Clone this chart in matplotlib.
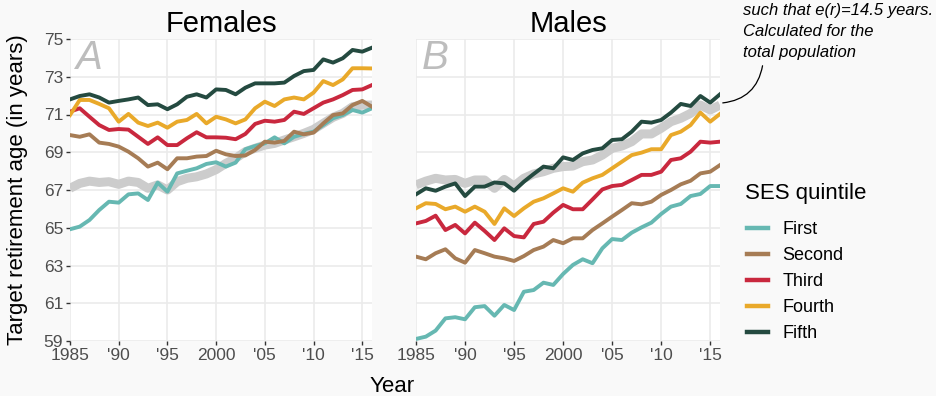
import matplotlib
matplotlib.use('Agg')
import matplotlib.pyplot as plt
from matplotlib.lines import Line2D

plt.rcParams['font.family'] = ['Liberation Sans', 'DejaVu Sans']

years = list(range(1985, 2017))

# Females
fem_first = [64.92, 65.06, 65.41, 65.94, 66.38, 66.33, 66.77, 66.82, 66.47, 67.39, 66.91,
             67.88, 68.02, 68.15, 68.38, 68.47, 68.24, 68.45, 69.16, 69.33, 69.47, 69.79,
             69.47, 69.82, 69.97, 70.09, 70.44, 70.80, 70.97, 71.24, 71.10, 71.33]
fem_second = [69.91, 69.82, 69.95, 69.51, 69.44, 69.30, 69.03, 68.68, 68.24, 68.45, 68.10,
              68.68, 68.68, 68.77, 68.80, 69.08, 68.89, 68.80, 68.83, 69.12, 69.56, 69.51,
              69.60, 70.09, 69.95, 70.04, 70.53, 70.97, 71.06, 71.50, 71.72, 71.41]
fem_third = [71.15, 71.33, 70.88, 70.44, 70.18, 70.23, 70.20, 69.82, 69.44, 69.79, 69.38,
             69.38, 69.74, 70.06, 69.79, 69.79, 69.77, 69.69, 69.97, 70.50, 70.67, 70.62,
             70.71, 71.15, 71.03, 71.33, 71.63, 71.80, 72.03, 72.30, 72.33, 72.56]
fem_fourth = [70.97, 71.77, 71.77, 71.56, 71.33, 70.62, 71.03, 70.57, 70.39, 70.57, 70.30,
              70.62, 70.71, 71.03, 70.53, 70.88, 70.74, 70.53, 70.74, 71.33, 71.68, 71.45,
              71.80, 71.90, 71.80, 72.16, 72.77, 72.56, 72.86, 73.45, 73.45, 73.44]
fem_fifth = [71.80, 71.98, 72.07, 71.90, 71.63, 71.72, 71.80, 71.90, 71.50, 71.54, 71.28,
             71.54, 71.94, 72.07, 71.90, 72.33, 72.30, 72.07, 72.42, 72.65, 72.65, 72.65,
             72.69, 73.04, 73.30, 73.36, 73.92, 73.75, 73.98, 74.42, 74.33, 74.54]
fem_total = [67.09, 67.35, 67.47, 67.40, 67.44, 67.30, 67.47, 67.40, 67.09, 67.27, 67.00,
             67.44, 67.62, 67.70, 67.85, 68.08, 68.41, 68.68, 69.03, 69.21, 69.38, 69.47,
             69.65, 69.82, 70.00, 70.21, 70.53, 70.85, 71.06, 71.41, 71.50, 71.50]

# Males
male_first = [59.11, 59.23, 59.55, 60.20, 60.26, 60.15, 60.79, 60.85, 60.34, 60.91, 60.64,
              61.61, 61.70, 62.09, 61.97, 62.55, 63.03, 63.33, 63.12, 63.91, 64.40, 64.35,
              64.74, 65.02, 65.27, 65.73, 66.12, 66.26, 66.68, 66.79, 67.21, 67.21]
male_second = [63.47, 63.33, 63.65, 63.86, 63.38, 63.15, 63.82, 63.65, 63.47, 63.38, 63.24,
               63.50, 63.82, 64.00, 64.35, 64.18, 64.44, 64.44, 64.88, 65.23, 65.59, 65.94,
               66.30, 66.24, 66.38, 66.74, 67.00, 67.30, 67.49, 67.88, 67.97, 68.32]
male_third = [65.23, 65.36, 65.64, 64.88, 65.15, 64.70, 65.27, 64.83, 64.35, 64.97, 64.56,
              64.49, 65.20, 65.32, 65.80, 66.21, 65.98, 65.98, 66.50, 67.03, 67.21, 67.27,
              67.53, 67.80, 67.80, 67.97, 68.59, 68.68, 69.03, 69.56, 69.51, 69.56]
male_fourth = [66.03, 66.30, 66.26, 65.98, 66.12, 65.85, 66.12, 65.85, 65.20, 66.03, 65.62,
               66.03, 66.38, 66.56, 66.82, 67.09, 66.91, 67.39, 67.62, 67.80, 68.15, 68.50,
               68.85, 68.98, 69.16, 69.16, 69.91, 70.09, 70.44, 71.10, 70.62, 71.03]
male_fifth = [66.77, 67.09, 66.96, 67.18, 67.35, 66.68, 67.18, 67.18, 67.40, 67.35, 66.96,
              67.44, 67.85, 68.24, 68.15, 68.73, 68.59, 68.94, 69.12, 69.21, 69.65, 69.69,
              70.09, 70.62, 70.57, 70.71, 71.10, 71.56, 71.45, 71.98, 71.63, 72.07]
male_total = [67.27, 67.47, 67.62, 67.53, 67.56, 67.35, 67.53, 67.53, 67.09, 67.56, 67.21,
              67.62, 67.85, 67.97, 68.15, 68.24, 68.27, 68.50, 68.59, 68.85, 69.21, 69.33,
              69.56, 69.97, 69.97, 70.27, 70.62, 70.80, 71.06, 71.50, 71.24, 71.50]

quintiles = ['First', 'Second', 'Third', 'Fourth', 'Fifth']
colors = ['#66b8b2', '#a67c55', '#c9283e', '#e9a92a', '#244a40']

xticks = [1985, 1990, 1995, 2000, 2005, 2010, 2015]
xtick_labels = ['1985', "'90", "'95", '2000', "'05", "'10", "'15"]
yticks = [59, 61, 63, 65, 67, 69, 71, 73, 75]

fig = plt.figure(figsize=(9.36, 3.96), dpi=100, facecolor='#f9f9f9')
ax1 = fig.add_axes([70 / 936, 1 - 341 / 396, 302 / 936, 302 / 396])
ax2 = fig.add_axes([416 / 936, 1 - 341 / 396, 304 / 936, 302 / 396])

panels = [
    (ax1, 'Females', 'A', fem_total, [fem_first, fem_second, fem_third, fem_fourth, fem_fifth]),
    (ax2, 'Males', 'B', male_total, [male_first, male_second, male_third, male_fourth, male_fifth]),
]

for ax, title, letter, total, series in panels:
    ax.set_facecolor('white')
    # total population, drawn as a wide grey band
    ax.plot(years, total, color='#cccccc', lw=6.5, solid_capstyle='butt', zorder=2)
    for s, c in zip(series, colors):
        ax.plot(years, s, color=c, lw=2.8, zorder=3)
    ax.set_xlim(1985, 2016)
    ax.set_ylim(59, 75)
    ax.set_xticks(xticks)
    ax.set_xticklabels(xtick_labels)
    ax.set_yticks(yticks)
    ax.grid(True, color='#ebebeb', lw=1.2, zorder=0)
    ax.set_axisbelow(True)
    for sp in ax.spines.values():
        sp.set_visible(False)
    ax.tick_params(axis='both', labelsize=12.5, labelcolor='#4d4d4d', color='#333333',
                   length=3, width=1, pad=2)
    ax.set_title(title, fontsize=21, pad=5)
    ax.text(0.02, 1.0, letter, transform=ax.transAxes, fontsize=29, style='italic',
            color='#bdbdbd', ha='left', va='top')

ax2.tick_params(axis='y', left=False, labelleft=False)

fig.text(18 / 936, 1 - 190 / 396, 'Target retirement age (in years)',
         rotation=90, fontsize=16, ha='center', va='center')
fig.text(392 / 936, 1 - 386 / 396, 'Year', fontsize=16, ha='center', va='center')

# legend
fig.text(745 / 936, 1 - 193 / 396, 'SES quintile', fontsize=16, ha='left', va='center')
handles = [Line2D([], [], color=c, lw=3.2) for c in colors]
fig.legend(handles, quintiles, loc='upper left', bbox_to_anchor=(747 / 936, 1 - 221 / 396),
           frameon=False, fontsize=13, handlelength=1.17, handletextpad=0.78,
           labelspacing=0.5, borderpad=0, borderaxespad=0)

fig.text(743 / 936, 1 - 3 / 396, 'such that e(r)=14.5 years.\nCalculated for the\ntotal population',
         fontsize=12, style='italic', ha='left', va='top', linespacing=1.5)

ax2.annotate('', xy=(2016, 71.6), xycoords='data',
             xytext=(763 / 936, 1 - 63 / 396), textcoords='figure fraction',
             arrowprops=dict(arrowstyle='-', connectionstyle='arc3,rad=-0.4',
                             lw=0.9, color='black'),
             annotation_clip=False)

fig.savefig('out.png', dpi=100, facecolor=fig.get_facecolor())
